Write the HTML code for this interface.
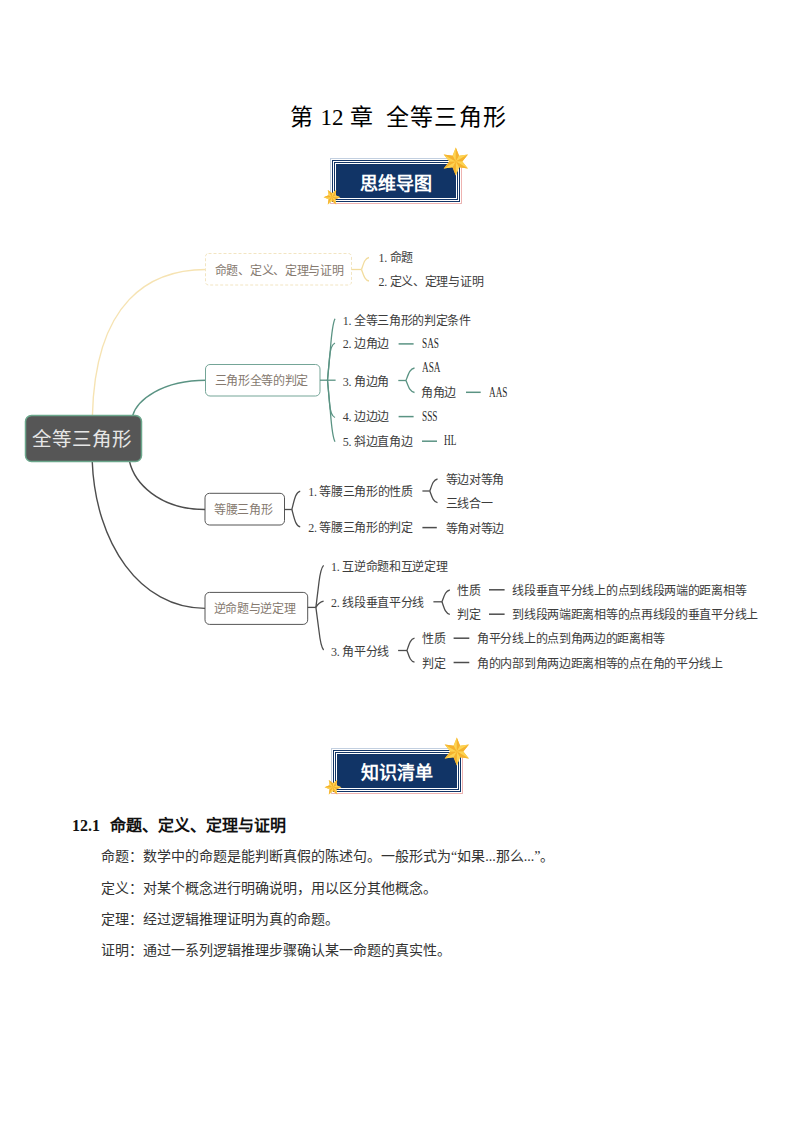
<!DOCTYPE html>
<html lang="zh-CN"><head><meta charset="utf-8">
<style>
html,body{margin:0;padding:0;background:#fff;}
body{text-spacing-trim:space-all;font-kerning:none;width:793px;height:1122px;position:relative;overflow:hidden;font-family:"Liberation Serif",serif;}
.a{position:absolute;white-space:nowrap;line-height:1;}
.title{font-size:23px;color:#000;}
.ban{font-family:"Liberation Sans",sans-serif;font-weight:bold;font-size:18px;color:#fff;}
.mm{font-size:12px;letter-spacing:-0.3px;color:#3c3c3c;}
.lat{letter-spacing:0;font-size:14px;color:#2a2a2a;transform:scaleX(0.66);transform-origin:0 0;}
.nd{font-size:12px;letter-spacing:-0.3px;color:#85796f;}
.h2{font-size:16px;font-weight:bold;color:#111;}
.p{font-size:14px;color:#333;}
</style></head><body>
<svg width="793" height="1122" style="position:absolute;left:0;top:0">
<defs>
<g id="star6"><polygon points="0.00,-14.00 3.25,-5.63 12.12,-7.00 6.50,0.00 12.12,7.00 3.25,5.63 0.00,14.00 -3.25,5.63 -12.12,7.00 -6.50,0.00 -12.12,-7.00 -3.25,-5.63" fill="#f8c03c"/><polygon points="0,0 -3.25,-5.63 0.00,-14.00" fill="#fdd352"/><polygon points="0,0 0.00,-14.00 3.25,-5.63" fill="#f5b22e"/><polygon points="0,0 3.25,-5.63 12.12,-7.00" fill="#fdd352"/><polygon points="0,0 12.12,-7.00 6.50,0.00" fill="#f5b22e"/><polygon points="0,0 6.50,0.00 12.12,7.00" fill="#fdd352"/><polygon points="0,0 12.12,7.00 3.25,5.63" fill="#f5b22e"/><polygon points="0,0 3.25,5.63 0.00,14.00" fill="#fdd352"/><polygon points="0,0 0.00,14.00 -3.25,5.63" fill="#f5b22e"/><polygon points="0,0 -3.25,5.63 -12.12,7.00" fill="#fdd352"/><polygon points="0,0 -12.12,7.00 -6.50,0.00" fill="#f5b22e"/><polygon points="0,0 -6.50,0.00 -12.12,-7.00" fill="#fdd352"/><polygon points="0,0 -12.12,-7.00 -3.25,-5.63" fill="#f5b22e"/></g>
</defs>
<g transform="translate(-1,-590)">
<rect x="331.5" y="748.5" width="131" height="45" fill="none" stroke="#c3d0e0" stroke-width="1"/>
<path d="M462.5,748.5 V793.5 H331.5" fill="none" stroke="#eeb3b0" stroke-width="1"/>
<rect x="333.5" y="750.5" width="127" height="41" fill="none" stroke="#113466" stroke-width="1"/>
<rect x="335.5" y="752.5" width="123" height="37" fill="none" stroke="#113466" stroke-width="1"/>
<rect x="337" y="754" width="120" height="34" fill="#113466"/>
<use href="#star6" transform="translate(456.8,751.5)"/>
<use href="#star6" transform="translate(333,787.2) rotate(90) scale(0.6)"/>
</g>
<rect x="331.5" y="748.5" width="131" height="45" fill="none" stroke="#c3d0e0" stroke-width="1"/>
<path d="M462.5,748.5 V793.5 H331.5" fill="none" stroke="#eeb3b0" stroke-width="1"/>
<rect x="333.5" y="750.5" width="127" height="41" fill="none" stroke="#113466" stroke-width="1"/>
<rect x="335.5" y="752.5" width="123" height="37" fill="none" stroke="#113466" stroke-width="1"/>
<rect x="337" y="754" width="120" height="34" fill="#113466"/>
<use href="#star6" transform="translate(456.8,751.5)"/>
<use href="#star6" transform="translate(333,787.2) rotate(90) scale(0.6)"/>
<g fill="none" stroke-width="1.4">
<path d="M92.4,416 C95,301 150,269.5 206,269.5" stroke="#f6e3b2"/>
<path d="M132.5,416 C137,400 162,380.2 206,380.2" stroke="#5a9383"/>
<path d="M129.4,461 C134.1,482 158,509.5 205,509.5" stroke="#4d4d4d"/>
<path d="M92.2,461 C95.4,543.5 140,608.4 205,608.4" stroke="#4d4d4d"/>
</g>
<rect x="25.5" y="415.5" width="116" height="46" rx="6" fill="#565656" stroke="#6ba78c" stroke-width="1.5"/>
<rect x="205.5" y="253.5" width="146" height="31.5" rx="3" fill="#fff" stroke="#f2e5c2" stroke-width="1" stroke-dasharray="3,2"/>
<rect x="205.5" y="364.5" width="114.5" height="31.5" rx="4.5" fill="#fff" stroke="#74a597" stroke-width="1"/>
<rect x="205" y="493.3" width="79.5" height="31.7" rx="4.5" fill="#fff" stroke="#555" stroke-width="1"/>
<rect x="205" y="592.4" width="102.7" height="32" rx="4.5" fill="#fff" stroke="#555" stroke-width="1"/>
<g fill="none" stroke-width="1.3">
<g stroke="#f2dc9e"><path d="M351.5,269.5 H361.5"/><path d="M361.5,269.5 C363.75,262.9 364.88,258.34 369,257.5"/><path d="M361.5,269.5 C363.75,275.82 364.88,280.19 369,281"/></g>
<g stroke="#5a9383"><path d="M320,380.2 H335.6"/><path d="M327.5,380.2 L330.4,349 C331.4,336 332.4,324 335,318.8"/><path d="M327.5,380.2 L329.6,357 C330.2,350 331.5,344.5 335,343"/><path d="M327.5,380.2 L329.6,404 C330.2,411 331.5,416 335,417.5"/><path d="M327.5,380.2 L330.4,412 C331.4,425 332.4,437 335,441.8"/></g>
<g stroke="#5a9383"><path d="M398.3,380.5 H406"/><path d="M406,380.5 C408.55,373.62 409.82,368.88 414.5,368"/><path d="M406,380.5 C408.55,387.1 409.82,391.66 414.5,392.5"/></g>
<path d="M398.6,343.9 H413.6" stroke="#5a9383" stroke-width="1.5"/>
<path d="M466,392.3 H480.7" stroke="#5a9383" stroke-width="1.5"/>
<path d="M398.6,416.6 H413.6" stroke="#5a9383" stroke-width="1.5"/>
<path d="M422,441.2 H437" stroke="#5a9383" stroke-width="1.5"/>
<g stroke="#4d4d4d"><path d="M284.5,509.5 H291.9"/><path d="M291.9,509.5 C294.39,499.38 295.63,492.39 300.2,491.1"/><path d="M291.9,509.5 C294.39,519.07 295.63,525.68 300.2,526.9"/></g>
<g stroke="#4d4d4d"><path d="M422.4,491 H429.8"/><path d="M429.8,491 C432.11,484.4 433.26,479.84 437.5,479"/><path d="M429.8,491 C432.11,497.38 433.26,501.79 437.5,502.6"/></g>
<path d="M422.4,527.6 H436.8" stroke="#4d4d4d" stroke-width="1.5"/>
<g stroke="#4d4d4d"><path d="M307.7,607.4 H315.9"/><path d="M315.9,607.4 L319,582 C320,574 321,568 323.6,565.4"/><path d="M315.9,607.4 C317.5,604.5 319.5,602 323.6,601.2"/><path d="M315.9,607.4 L319,631 C320,640 321,647 323.6,650"/></g>
<g stroke="#4d4d4d"><path d="M433.4,601.8 H442"/><path d="M442,601.8 C444.34,595.31 445.51,590.83 449.8,590"/><path d="M442,601.8 C444.34,608.67 445.51,613.42 449.8,614.3"/></g>
<path d="M489,589.8 H504.6" stroke="#4d4d4d" stroke-width="1.5"/>
<path d="M489,614.2 H504.6" stroke="#4d4d4d" stroke-width="1.5"/>
<g stroke="#4d4d4d"><path d="M398.1,650.5 H407"/><path d="M407,650.5 C409.25,643.74 410.38,639.06 414.5,638.2"/><path d="M407,650.5 C409.25,656.94 410.38,661.38 414.5,662.2"/></g>
<path d="M453.6,638.2 H469.3" stroke="#4d4d4d" stroke-width="1.5"/>
<path d="M453.6,662.5 H469.3" stroke="#4d4d4d" stroke-width="1.5"/>
</g>
</svg>
<div class="a title" style="left:290px;top:106px">第</div><div class="a title" style="left:320.5px;top:106px">12</div><div class="a title" style="left:349.5px;top:106px">章</div><div class="a title" style="left:386px;top:106px;letter-spacing:1.2px">全等三角形</div>
<div class="a ban" style="left:360px;top:175px">思维导图</div>
<div class="a ban" style="left:360.5px;top:764px">知识清单</div>
<div class="a" style="left:32px;top:429.5px;font-size:19.5px;color:#e6e6e6">全等三角形</div>
<div class="a mm" style="left:378.5px;top:252.1px">1. 命题</div>
<div class="a mm" style="left:378.5px;top:275.6px">2. 定义、定理与证明</div>
<div class="a mm" style="left:342.8px;top:314.5px">1. 全等三角形的判定条件</div>
<div class="a mm" style="left:342.8px;top:337.6px">2. 边角边</div>
<div class="a mm lat" style="left:421.5px;top:336.5px">SAS</div>
<div class="a mm" style="left:342.8px;top:376px">3. 角边角</div>
<div class="a mm lat" style="left:421.5px;top:361.3px">ASA</div>
<div class="a mm" style="left:421px;top:387px">角角边</div>
<div class="a mm lat" style="left:488.7px;top:385.5px">AAS</div>
<div class="a mm" style="left:342.8px;top:411.2px">4. 边边边</div>
<div class="a mm lat" style="left:421.5px;top:409.7px">SSS</div>
<div class="a mm" style="left:342.8px;top:435.7px">5. 斜边直角边</div>
<div class="a mm lat" style="left:444.4px;top:434.2px">HL</div>
<div class="a mm" style="left:308.2px;top:485.6px">1. 等腰三角形的性质</div>
<div class="a mm" style="left:308.2px;top:522.3px">2. 等腰三角形的判定</div>
<div class="a mm" style="left:445.6px;top:474.2px">等边对等角</div>
<div class="a mm" style="left:445.6px;top:497.9px">三线合一</div>
<div class="a mm" style="left:445.6px;top:522.6px">等角对等边</div>
<div class="a mm" style="left:331px;top:561px">1. 互逆命题和互逆定理</div>
<div class="a mm" style="left:331px;top:596.6px">2. 线段垂直平分线</div>
<div class="a mm" style="left:331px;top:645.8px">3. 角平分线</div>
<div class="a mm" style="left:457px;top:584.8px">性质</div>
<div class="a mm" style="left:512.3px;top:584.8px">线段垂直平分线上的点到线段两端的距离相等</div>
<div class="a mm" style="left:457px;top:609.2px">判定</div>
<div class="a mm" style="left:512.3px;top:609.2px">到线段两端距离相等的点再线段的垂直平分线上</div>
<div class="a mm" style="left:422px;top:633.2px">性质</div>
<div class="a mm" style="left:477px;top:633.2px">角平分线上的点到角两边的距离相等</div>
<div class="a mm" style="left:422px;top:657.5px">判定</div>
<div class="a mm" style="left:477px;top:657.5px">角的内部到角两边距离相等的点在角的平分线上</div>
<div class="a nd" style="left:214.8px;top:264.5px">命题、定义、定理与证明</div>
<div class="a nd" style="left:214.6px;top:375.2px">三角形全等的判定</div>
<div class="a nd" style="left:214px;top:504.3px">等腰三角形</div>
<div class="a nd" style="left:213.5px;top:603.4px">逆命题与逆定理</div>
<div class="a h2" style="left:72px;top:818px">12.1</div><div class="a h2" style="left:109.5px;top:818px">命题、定义、定理与证明</div>
<div class="a p" style="left:101px;top:850px">命题：数学中的命题是能判断真假的陈述句。一般形式为“如果...那么...”。</div>
<div class="a p" style="left:101px;top:882px">定义：对某个概念进行明确说明，用以区分其他概念。</div>
<div class="a p" style="left:101px;top:913px">定理：经过逻辑推理证明为真的命题。</div>
<div class="a p" style="left:101px;top:944px">证明：通过一系列逻辑推理步骤确认某一命题的真实性。</div>
</body></html>
